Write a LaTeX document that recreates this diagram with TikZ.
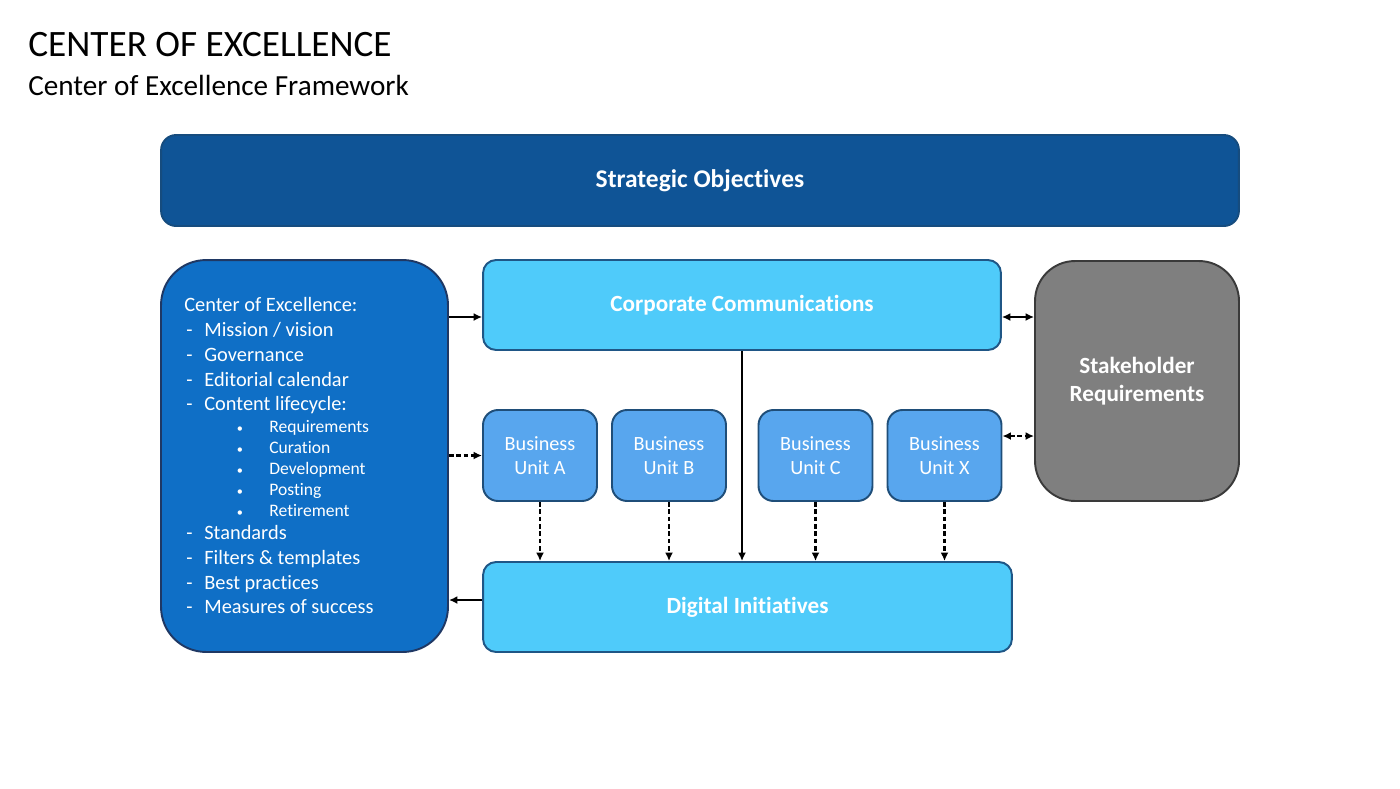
\documentclass[tikz,border=0pt]{standalone}
\usepackage{fontspec}
\setmainfont{Carlito}[Ligatures=NoCommon]
\usetikzlibrary{arrows.meta}
\definecolor{stratfill}{HTML}{0F5496}
\definecolor{stratline}{HTML}{164C7E}
\definecolor{coefill}{HTML}{0F6FC6}
\definecolor{coeline}{HTML}{1F3864}
\definecolor{cyanfill}{HTML}{4FCBFA}
\definecolor{cyanline}{HTML}{1F5686}
\definecolor{bufill}{HTML}{58A6EE}
\definecolor{buline}{HTML}{1F4E79}
\definecolor{stakefill}{HTML}{7F7F7F}
\definecolor{stakeline}{HTML}{3A3A3A}
\begin{document}
\begin{tikzpicture}[x=0.02cm, y=-0.02cm,
  box/.style={draw, line width=1.1pt, text=white, align=center},
  boldtxt/.style={font=\fontsize{13.2}{16}\selectfont\bfseries},
  butxt/.style={font=\fontsize{11.5}{13.6}\selectfont},
  coeitem/.style={inner sep=0pt, text=white, font=\fontsize{11.6}{13}\selectfont},
  coesub/.style={inner sep=0pt, text=white, font=\fontsize{10}{11}\selectfont},
  bu/.style={box, butxt, fill=bufill, draw=buline, rounded corners=0.3cm,
    minimum width=2.28cm, minimum height=1.82cm},
  arr/.style={-{Latex[length=1.7mm,width=1.6mm]}, line width=1.1pt},
  arrs/.style={{Latex[length=1.7mm,width=1.6mm]}-{Latex[length=1.7mm,width=1.6mm]}, line width=1.1pt},
  dsh/.style={line width=1.3pt, dash pattern=on 2.6pt off 1.6pt}]
\useasboundingbox (0,0) rectangle (1400,788);
\node[inner sep=0pt, anchor=base west, font=\fontsize{21.2}{26}\selectfont] (title) at (28,56) {CENTER OF EXCELLENCE};
\node[inner sep=0pt, anchor=base west, font=\fontsize{16.6}{20}\selectfont] (subtitle) at (28,95) {Center of Excellence Framework};
% boxes
\node[box, font=\fontsize{14.5}{18}\selectfont\bfseries, fill=stratfill, draw=stratline, rounded corners=0.3cm,
  minimum width=21.56cm, minimum height=1.82cm] (strat) at (700,180.5) {Strategic Objectives};
\node[box, fill=coefill, draw=coeline, rounded corners=0.9cm,
  minimum width=5.74cm, minimum height=7.84cm] (coe) at (304.5,456) {};
\node[box, boldtxt, fill=cyanfill, draw=cyanline, rounded corners=0.26cm,
  minimum width=10.36cm, minimum height=1.8cm] (corp) at (742,305) {Corporate Communications};
\node[box, boldtxt, fill=stakefill, draw=stakeline, rounded corners=0.8cm,
  minimum width=4.08cm, minimum height=4.8cm] (stake) at (1137,381) {Stakeholder\\Requirements};
\node[bu] (bua) at (540,455.5) {Business\\Unit A};
\node[bu] (bub) at (669,455.5) {Business\\Unit B};
\node[bu] (buc) at (815.5,455.5) {Business\\Unit C};
\node[bu] (bux) at (944.5,455.5) {Business\\Unit X};
\node[box, boldtxt, fill=cyanfill, draw=cyanline, rounded corners=0.26cm,
  minimum width=10.58cm, minimum height=1.8cm] (dig) at (747.5,607) {Digital Initiatives};
% left box text
\node[coeitem, anchor=base west] (coehead) at (184,311) {Center of Excellence:};
\foreach \yy/\txt [count=\i] in {336/{Mission / vision}, 361/Governance, 386/Editorial calendar, 410/Content lifecycle:, 539/Standards, 564/Filters \& templates, 589/Best practices, 613/Measures of success}
{
  \node[coeitem, anchor=base west] (dash\i) at (186,\yy) {-};
  \node[coeitem, anchor=base west] (item\i) at (204,\yy) {\txt};
}
\foreach \yy/\txt [count=\i] in {432/Requirements, 453/Curation, 474/Development, 495/Posting, 516/Retirement}
{
  \node[coesub, anchor=base, font=\fontsize{7}{8}\selectfont] (bul\i) at (240,\yy) {\textbullet};
  \node[coesub, anchor=base west] (sub\i) at (269,\yy) {\txt};
}
% connectors
\coordinate (corpin) at ([yshift=-0.24cm]corp.west);
\coordinate (corpout) at ([yshift=-0.24cm]corp.east);
\coordinate (digout) at ([yshift=0.14cm]dig.west);
\coordinate (buxout) at ([yshift=0.39cm]bux.east);
\draw[arr] (coe.east |- corpin) -- (corpin);
\draw[arr, dsh] (coe.east |- bua.west) -- (bua.west);
\draw[arr] (digout) -- (coe.east |- digout);
\draw[arrs] (corpout) -- (stake.west |- corpout);
\draw[arrs, dsh] (buxout) -- (stake.west |- buxout);
\draw[arr] (corp.south) -- (dig.north -| corp.south);
\foreach \u in {bua, bub, buc, bux}
  \draw[arr, dsh] (\u.south) -- (dig.north -| \u.south);
\end{tikzpicture}
\end{document}
